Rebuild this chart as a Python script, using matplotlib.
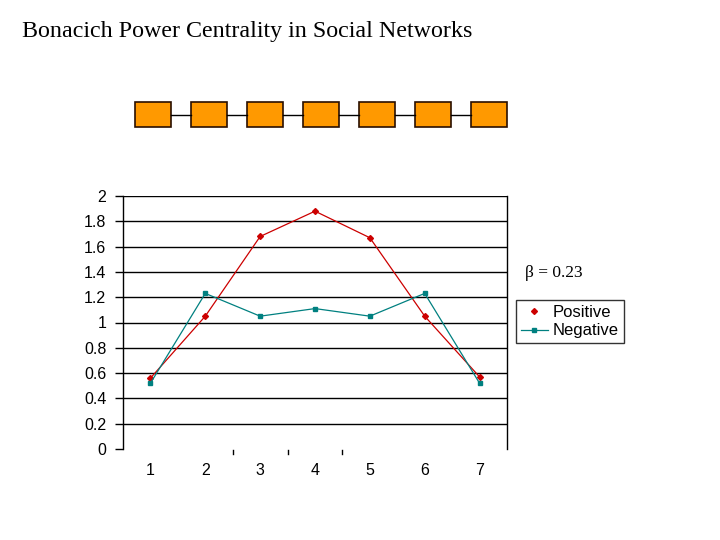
import matplotlib
matplotlib.use('Agg')
import matplotlib.pyplot as plt
from matplotlib.lines import Line2D
from matplotlib.patches import Rectangle

# node positions on the chain
nodes = [1, 2, 3, 4, 5, 6, 7]
positive = [0.56, 1.05, 1.68, 1.88, 1.67, 1.05, 0.57]
negative = [0.52, 1.23, 1.05, 1.11, 1.05, 1.23, 0.52]
y_ticks = [0, 0.2, 0.4, 0.6, 0.8, 1, 1.2, 1.4, 1.6, 1.8, 2]
y_labels = ['0', '0.2', '0.4', '0.6', '0.8', '1', '1.2', '1.4', '1.6', '1.8', '2']

W, H = 720, 540
fig = plt.figure(figsize=(7.2, 5.4), dpi=100)
fig.patch.set_facecolor('white')

# overlay in pixel coordinates for the title and the chain drawing
over = fig.add_axes([0, 0, 1, 1])
over.set_xlim(0, W)
over.set_ylim(H, 0)
over.axis('off')
over.text(22, 32, 'Bonacich Power Centrality in Social Networks',
          family='Liberation Serif', fontsize=17.3, va='center', ha='left')

# chain of nodes
bx0, bw, bstep = 135, 36, 56
for i in range(len(nodes)):
    x = bx0 + i * bstep
    if i > 0:
        over.plot([x - bstep + bw, x], [114.5, 114.5], color='black', lw=1)
    over.add_patch(Rectangle((x, 102), bw, 25, facecolor='#ff9900',
                             edgecolor='#2a0f00', lw=1.2))

# main chart
ax = fig.add_axes([123 / W, (H - 449) / H, 384 / W, 253 / H])
ax.plot(nodes, positive, color='#cc0000', lw=0.9, marker='D', markersize=3,
        markerfacecolor='#cc0000', markeredgecolor='#cc0000')
ax.plot(nodes, negative, color='#008080', lw=0.9, marker='s', markersize=3.5,
        markerfacecolor='#008080', markeredgecolor='#008080')

ax.set_xlim(0.5, 7.5)
ax.set_ylim(0, 2)
ax.set_yticks(y_ticks)
ax.set_yticklabels(y_labels)
ax.set_xticks(nodes)
ax.tick_params(axis='x', length=0, pad=10)
ax.tick_params(axis='y', length=6, width=1, pad=6)
for lab in ax.get_xticklabels() + ax.get_yticklabels():
    lab.set_family('Liberation Sans')
    lab.set_fontsize(11.5)
for y in y_ticks[1:]:
    ax.axhline(y, color='black', lw=1, zorder=0)
ax.spines['top'].set_visible(False)
ax.spines['bottom'].set_visible(False)
ax.spines['left'].set_linewidth(1)
ax.spines['right'].set_linewidth(1)

# small stray ticks under the plot
for xb in [2.5, 3.5, 4.5]:
    ax.plot([xb, xb], [-0.01, -0.04], color='black', lw=1, clip_on=False)

handles = [
    Line2D([], [], color='#cc0000', linestyle='none', marker='D', markersize=3),
    Line2D([], [], color='#008080', lw=0.9, marker='s', markersize=3.5),
]
leg = fig.legend(handles, ['Positive', 'Negative'], loc='upper left',
                 bbox_to_anchor=(516 / W, 1 - 300 / H), frameon=True,
                 fancybox=False, handlelength=1.6, handletextpad=0.3,
                 borderpad=0.3, labelspacing=0.2, borderaxespad=0,
                 prop={'family': 'Liberation Sans', 'size': 12})
leg.get_frame().set_edgecolor('black')
leg.get_frame().set_linewidth(1)

over.text(525, 273, '\u03b2 = 0.23', family='Liberation Serif', fontsize=12.5,
          va='center', ha='left')

fig.savefig('out.png', dpi=100)
